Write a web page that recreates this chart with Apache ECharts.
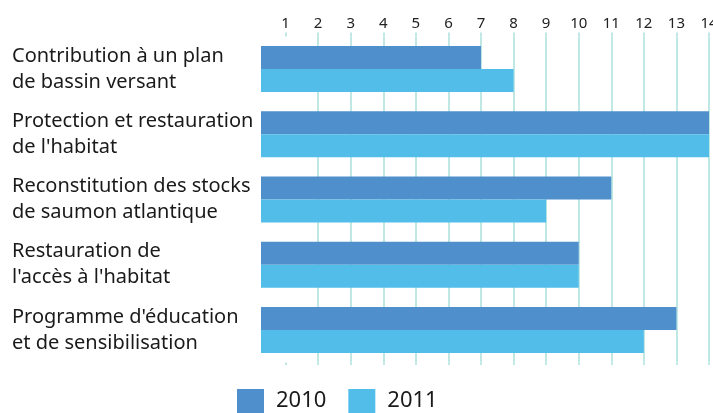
<!DOCTYPE html>
<html>
<head>
<meta charset="utf-8">
<script src="https://cdn.jsdelivr.net/npm/echarts@6/dist/echarts.min.js"></script>
<style>
  html, body { margin: 0; padding: 0; background: #fff; }
  #chart { width: 713px; height: 413px; }
</style>
</head>
<body>
<div id="chart"></div>
<script>
// données
const categories = [
    'Contribution à un plan\nde bassin versant',
    'Protection et restauration\nde l\'habitat',
    'Reconstitution des stocks\nde saumon atlantique',
    'Restauration de\nl\'accès à l\'habitat',
    'Programme d\'éducation\net de sensibilisation'
];
const years = ['2010', '2011'];
const values2010 = [7, 14, 11, 10, 13];
const values2011 = [8, 14, 9, 10, 12];
const tickValues = [1, 2, 3, 4, 5, 6, 7, 8, 9, 10, 11, 12, 13, 14];

const colors = ['#4f90cc', '#53bdea'];
const gridColor = '#bfe7e4';
const font = "'Noto Sans', 'DejaVu Sans', sans-serif";

const chart = echarts.init(document.getElementById('chart'));

const makeSeries = (name, data) => ({
    name: name,
    type: 'bar',
    data: data,
    barWidth: 23,
    barGap: 0,
    xAxisIndex: 0,
    z: 2
});

chart.setOption({
    animation: false,
    color: colors,
    textStyle: { fontFamily: font },
    grid: { left: 253, right: 4, top: 36.5, height: 326, containLabel: false, outerBoundsMode: 'none' },
    legend: {
        data: years,
        left: 237,
        top: 389,
        padding: 0,
        itemWidth: 27,
        itemHeight: 24,
        itemGap: 22,
        icon: 'rect',
        textStyle: { fontSize: 22, color: '#1a1a1a', fontFamily: font, padding: [0, 0, 0, 7] }
    },
    xAxis: [{
        type: 'value',
        position: 'top',
        min: 0,
        max: 14,
        interval: 1,
        axisLine: { show: false },
        axisTick: {
            show: true, inside: false, length: 4, customValues: tickValues,
            lineStyle: { color: gridColor, width: 2 }
        },
        axisLabel: {
            customValues: tickValues, margin: 5,
            fontSize: 15, color: '#222', fontFamily: font
        },
        splitLine: { show: true, showMinLine: false, lineStyle: { color: gridColor, width: 2 } }
    }, {
        type: 'value',
        position: 'bottom',
        min: 0,
        max: 14,
        interval: 1,
        axisLine: { show: false },
        axisTick: {
            show: true, inside: false, length: 2.5, customValues: tickValues,
            lineStyle: { color: gridColor, width: 2 }
        },
        axisLabel: { show: false },
        splitLine: { show: false }
    }],
    yAxis: {
        type: 'category',
        data: categories,
        inverse: true,
        axisLine: { show: false },
        axisTick: { show: false },
        axisLabel: {
            align: 'left',
            margin: 241,
            fontSize: 20,
            lineHeight: 26,
            color: '#1a1a1a',
            fontFamily: font
        }
    },
    series: [
        makeSeries(years[0], values2010),
        makeSeries(years[1], values2011)
    ],
    // les barres commencent un peu après l'origine de l'axe
    graphic: [{
        type: 'rect',
        z: 10,
        shape: { x: 253, y: 40, width: 8, height: 320 },
        style: { fill: '#fff' }
    }]
});
</script>
</body>
</html>
